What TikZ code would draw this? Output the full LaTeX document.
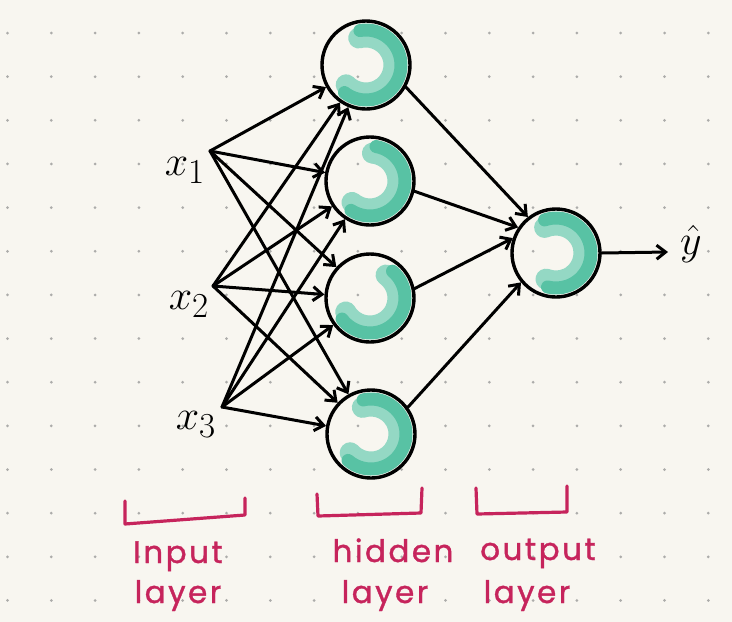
\documentclass[tikz,border=0pt]{standalone}
\usepackage{fontspec}
\setmainfont{Poppins}
\usetikzlibrary{arrows.meta}
\definecolor{paper}{RGB}{248,246,240}
\definecolor{dotc}{RGB}{172,172,170}
\definecolor{tealD}{RGB}{88,194,164}
\definecolor{tealL}{RGB}{148,216,196}
\definecolor{pinkink}{RGB}{198,36,92}
\begin{document}
\begin{tikzpicture}[x=1pt,y=-1pt,
 neuron/.style={circle,draw=black,line width=3.4pt,minimum size=88pt,inner sep=0pt},
 arr/.style={line width=3pt,-{Straight Barb[length=9pt,width=14pt]},line cap=round},
 bracket/.style={draw=pinkink,line width=3.2pt,line cap=round,line join=round},
 lbl/.style={text=pinkink,font=\fontsize{31}{36}\selectfont\addfontfeature{LetterSpace=8,FakeBold=1.2},inner sep=0pt},
 xl/.style={font=\Huge,scale=1.69,inner sep=0pt},
 patchL/.style={draw=tealL,line width=21pt,line cap=round},
 patchD/.style={draw=tealD,line width=13pt,line cap=round}]

\fill[paper] (0,0) rectangle (732,622);
\useasboundingbox (0,0) rectangle (732,622);
\foreach \i in {0,...,16}\foreach \j in {0,...,13}
  \fill[dotc] (7.5+43.8*\i,33+43.65*\j) circle[radius=1.5];

% centres
\coordinate (c1) at (366,65);
\coordinate (c2) at (370,181);
\coordinate (c3) at (370,298);
\coordinate (c4) at (371,434);
\coordinate (c5) at (556,253);

% teal patches
\draw[patchL] (c1) ++(-105:28) arc[start angle=-105,end angle=135,radius=28];
\draw[patchD] (c1) ++(-100:35) arc[start angle=-100,end angle=128,radius=35];
\draw[patchL] (c2) ++(-85:28) arc[start angle=-85,end angle=130,radius=28];
\draw[patchD] (c2) ++(-80:35) arc[start angle=-80,end angle=123,radius=35];
\draw[patchL] (c3) ++(-55:28) arc[start angle=-55,end angle=150,radius=28];
\draw[patchD] (c3) ++(-50:35) arc[start angle=-50,end angle=143,radius=35];
\draw[patchL] (c4) ++(-108:28) arc[start angle=-108,end angle=138,radius=28];
\draw[patchD] (c4) ++(-103:35) arc[start angle=-103,end angle=131,radius=35];
\draw[patchL] (c5) ++(-114:28) arc[start angle=-114,end angle=111,radius=28];
\draw[patchD] (c5) ++(-109:35) arc[start angle=-109,end angle=104,radius=35];

% neurons
\node[neuron] (h1) at (c1) {};
\node[neuron] (h2) at (c2) {};
\node[neuron] (h3) at (c3) {};
\node[neuron] (h4) at (c4) {};
\node[neuron] (out) at (c5) {};

% inputs
\coordinate (x1v) at (210,151);
\coordinate (x2v) at (213,286);
\coordinate (x3v) at (222,407);
\node[xl] (x1) at (185,170) {$x_1$};
\node[xl] (x2) at (189,304) {$x_2$};
\node[xl] (x3) at (196,424) {$x_3$};

\foreach \s in {x1v,x2v,x3v}
  \foreach \t in {h1,h2,h3,h4}
    \draw[arr] (\s) -- (\t);

\draw[arr] (h1.-29) -- (out.128);
\draw[arr] (h2.-13) -- (out.146);
\draw[arr] (h3.12) -- (out.161);
\draw[arr] (h4.36) -- (out.220);

\coordinate (yend) at (668,252);
\draw[arr] (out.0) -- (yend);
\node[xl] (yh) at (691,244) {$\hat{y}$};

% brackets and labels
\draw[bracket] (125,501) -- (125,524) -- (245,515) -- (245,498);
\draw[bracket] (317,494) -- (318,516) -- (421,513) -- (422,488);
\draw[bracket] (476,488) -- (477,514) -- (567,512) -- (567,486);

\node[lbl,anchor=base] (l1a) at (178,563) {Input};
\node[lbl,anchor=base] (l1b) at (178,603) {layer};
\node[lbl,anchor=base] (l2a) at (393,562) {hidden};
\node[lbl,anchor=base] (l2b) at (385,603) {layer};
\node[lbl,anchor=base] (l3a) at (538,560) {output};
\node[lbl,anchor=base] (l3b) at (527,603) {layer};
\end{tikzpicture}
\end{document}
